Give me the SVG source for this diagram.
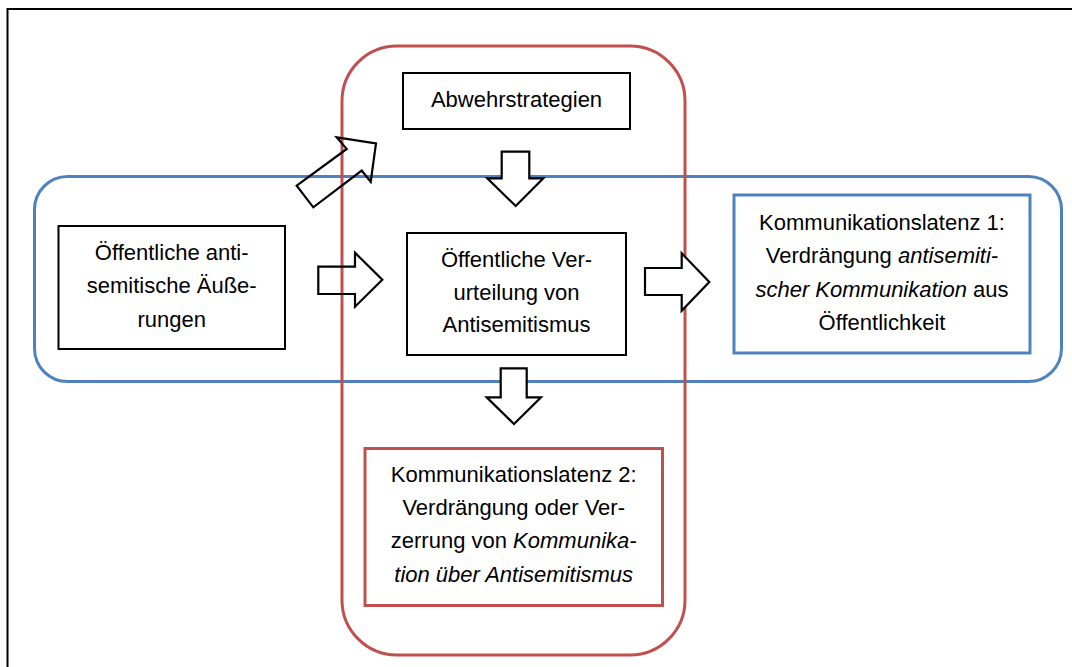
<svg xmlns="http://www.w3.org/2000/svg" width="1072" height="667" viewBox="0 0 1072 667">
<style>
.t{font-family:"Liberation Sans",Arial,sans-serif;font-size:22px;fill:#000;text-anchor:middle}
.i{font-style:italic}
.box{fill:#fff;stroke:#000;stroke-width:2}
.blue{stroke:#4F81BD;stroke-width:3;fill:none}
.red{stroke:#C0504D;stroke-width:3;fill:none}
.arr{stroke:#000;stroke-width:2.2;stroke-linejoin:miter}
</style>
<rect x="0" y="0" width="1072" height="667" fill="#fff"/>
<rect id="frame" x="7.5" y="9" width="1100" height="700" fill="none" stroke="#000" stroke-width="2"/>
<g id="container-blue"><rect class="blue" x="34.5" y="176.5" width="1027" height="205" rx="33"/></g>
<g id="container-red"><rect class="red" x="342" y="46" width="343" height="609" rx="55"/></g>
<g id="connectors">
<polygon class="arr" fill="none" points="296.7,185.7 346.7,149 336.7,137.3 376,143.3 370.7,181.7 361.7,170.5 313.3,207.3"/>
<polygon class="arr" fill="none" points="318.3,266.7 355,266.7 355,252.7 382.3,279.7 355,306.7 355,294 318.3,294"/>
<polygon class="arr" fill="#fff" points="645,268 681.7,268 681.7,253.3 709.3,282 681.7,310.7 681.7,295 645,295"/>
<polygon class="arr" fill="#fff" points="501.7,151.7 529.3,151.7 529.3,178.3 543.3,178.3 515.7,206 487.3,178.3 501.7,178.3"/>
<polygon class="arr" fill="#fff" points="500.7,368.3 526.7,368.3 526.7,397.3 541,397.3 514,424 486.7,397.3 500.7,397.3"/>
</g>
<g id="node-abwehr">
<rect class="box" x="403" y="73" width="227" height="56"/>
<text class="t" x="516.5" y="107">Abwehrstrategien</text>
</g>
<g id="node-aeusserungen">
<rect class="box" x="58.5" y="226" width="226.5" height="123"/>
<text class="t" x="171.7" y="260">Öffentliche anti-</text>
<text class="t" x="171.7" y="293.3">semitische Äuße-</text>
<text class="t" x="171.7" y="326.7">rungen</text>
</g>
<g id="node-verurteilung">
<rect class="box" x="407" y="233" width="219" height="122"/>
<text class="t" x="516.5" y="266.5">Öffentliche Ver-</text>
<text class="t" x="516.5" y="299.5">urteilung von</text>
<text class="t" x="516.5" y="331.5">Antisemitismus</text>
</g>
<g id="node-latenz1">
<rect x="734" y="195" width="296" height="158" fill="#fff" stroke="#4F81BD" stroke-width="3"/>
<text class="t" x="882" y="230">Kommunikationslatenz 1:</text>
<text class="t" x="882" y="263">Verdrängung <tspan class="i">antisemiti-</tspan></text>
<text class="t" x="882" y="296.5"><tspan class="i">scher Kommunikation</tspan> aus</text>
<text class="t" x="882" y="330">Öffentlichkeit</text>
</g>
<g id="node-latenz2">
<rect x="365" y="448.5" width="297.5" height="157" fill="#fff" stroke="#C0504D" stroke-width="3"/>
<text class="t" x="513.7" y="481.7">Kommunikationslatenz 2:</text>
<text class="t" x="513.7" y="515">Verdrängung oder Ver-</text>
<text class="t" x="513.7" y="548.3">zerrung von <tspan class="i">Kommunika-</tspan></text>
<text class="t i" x="513.7" y="581.7">tion über Antisemitismus</text>
</g>
</svg>
